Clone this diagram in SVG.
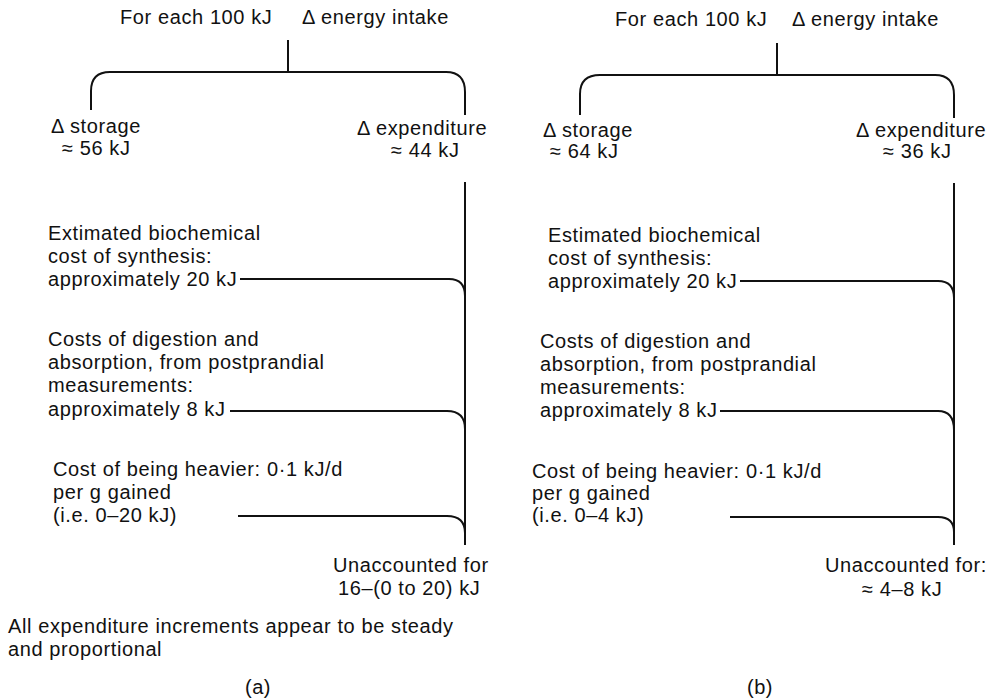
<svg xmlns="http://www.w3.org/2000/svg" width="994" height="698" viewBox="0 0 994 698">
<style>
text{font-family:"Liberation Sans",Arial,sans-serif;font-size:20px;letter-spacing:0.6px;fill:#111}
.ln{fill:none;stroke:#111;stroke-width:2;stroke-linecap:butt}
</style>
<rect width="994" height="698" fill="#fff"/>
<g id="connectors">
<path class="ln" d="M288 40V72M91 110V91Q91 72 110 72H446Q465 72 465 92V115"/>
<path class="ln" d="M465 182V545"/>
<path class="ln" d="M240 279H449Q465 279 465 296"/>
<path class="ln" d="M230 411H447Q465 411 465 429"/>
<path class="ln" d="M238 516H447Q465 516 465 533"/>
<path class="ln" d="M777 43V75M580 115V94Q580 75 600 75H935Q954 75 954 95V118"/>
<path class="ln" d="M954 183V545"/>
<path class="ln" d="M740 281H938Q954 281 954 298"/>
<path class="ln" d="M720 411H938Q954 411 954 430"/>
<path class="ln" d="M730 517H938Q954 517 954 532"/>
</g>
<g id="a-intake"><text x="120" y="24">For each 100 kJ</text><text x="302" y="24">Δ energy intake</text></g>
<g id="a-storage"><text x="51" y="133">Δ storage</text><text x="62" y="155">≈ 56 kJ</text></g>
<g id="a-expenditure"><text x="357" y="135">Δ expenditure</text><text x="391" y="157">≈ 44 kJ</text></g>
<g id="a-synthesis"><text x="48" y="240">Extimated biochemical</text><text x="48" y="263">cost of synthesis:</text><text x="48" y="286">approximately 20 kJ</text></g>
<g id="a-digestion"><text x="48" y="346">Costs of digestion and</text><text x="48" y="369">absorption, from postprandial</text><text x="48" y="392">measurements:</text><text x="48" y="416">approximately 8 kJ</text></g>
<g id="a-heavier"><text x="53" y="476">Cost of being heavier: 0·1 kJ/d</text><text x="53" y="499">per g gained</text><text x="53" y="522">(i.e. 0–20 kJ)</text></g>
<g id="a-unaccounted"><text x="333" y="572">Unaccounted for</text><text x="338" y="595">16–(0 to 20) kJ</text></g>
<g id="a-note"><text x="8" y="633">All expenditure increments appear to be steady</text><text x="8" y="656">and proportional</text></g>
<g id="a-label"><text x="258" y="694" text-anchor="middle">(a)</text></g>
<g id="b-intake"><text x="615" y="26">For each 100 kJ</text><text x="792" y="26">Δ energy intake</text></g>
<g id="b-storage"><text x="543" y="137">Δ storage</text><text x="550" y="158">≈ 64 kJ</text></g>
<g id="b-expenditure"><text x="856" y="137">Δ expenditure</text><text x="883" y="158">≈ 36 kJ</text></g>
<g id="b-synthesis"><text x="548" y="242">Estimated biochemical</text><text x="548" y="265">cost of synthesis:</text><text x="548" y="288">approximately 20 kJ</text></g>
<g id="b-digestion"><text x="540" y="348">Costs of digestion and</text><text x="540" y="371">absorption, from postprandial</text><text x="540" y="394">measurements:</text><text x="540" y="417">approximately 8 kJ</text></g>
<g id="b-heavier"><text x="532" y="478">Cost of being heavier: 0·1 kJ/d</text><text x="532" y="500">per g gained</text><text x="532" y="522">(i.e. 0–4 kJ)</text></g>
<g id="b-unaccounted"><text x="825" y="572">Unaccounted for:</text><text x="862" y="596">≈ 4–8 kJ</text></g>
<g id="b-label"><text x="760" y="694" text-anchor="middle">(b)</text></g>
</svg>
